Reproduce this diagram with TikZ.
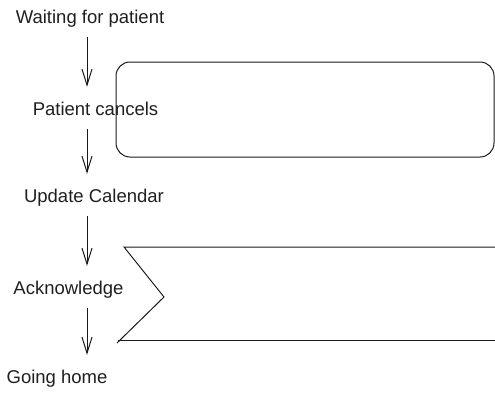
\documentclass[tikz,border=0pt]{standalone}
\usepackage{fontspec}
\setmainfont{Liberation Sans}
\usetikzlibrary{arrows.meta}
\begin{document}
\begin{tikzpicture}[x=1pt,y=-1pt,
  label/.style={font=\fontsize{18.5}{22}\selectfont, text=black!88, inner sep=0pt,
    text height=14pt, text depth=4pt, anchor=base},
  flow/.style={draw=black!90, line width=1pt, -{Straight Barb[length=16pt,width=10pt,line width=1pt]},
    shorten <=10pt, shorten >=14pt},
  outline/.style={draw=black!90, line width=1pt}]
\useasboundingbox (0,0) rectangle (495,394);

% state labels
\node[label] (wait)   at (90,23)   {Waiting for patient};
\node[label] (cancel) at (95.5,115) {Patient cancels};
\node[label] (update) at (94,202)  {Update Calendar};
\node[label] (ack)    at (68.5,294) {Acknowledge};
\node[label] (home)   at (57,383)  {Going home};

% vertical flow arrows
\coordinate (lane) at (87,0);
\draw[flow] (wait.south -| lane)   -- (cancel.north -| lane);
\draw[flow] (cancel.south -| lane) -- (update.north -| lane);
\draw[flow] (update.south -| lane) -- (ack.north -| lane);
\draw[flow] (ack.south -| lane)    -- (home.north -| lane);

% rounded panel
\draw[outline, rounded corners=14pt] (116,62) rectangle (494,157);

% chevron band
\draw[outline] (495,247) -- (124,247) -- (164,297) -- (117,343);
\draw[outline] (118,340) -- (495,340);
\end{tikzpicture}
\end{document}
